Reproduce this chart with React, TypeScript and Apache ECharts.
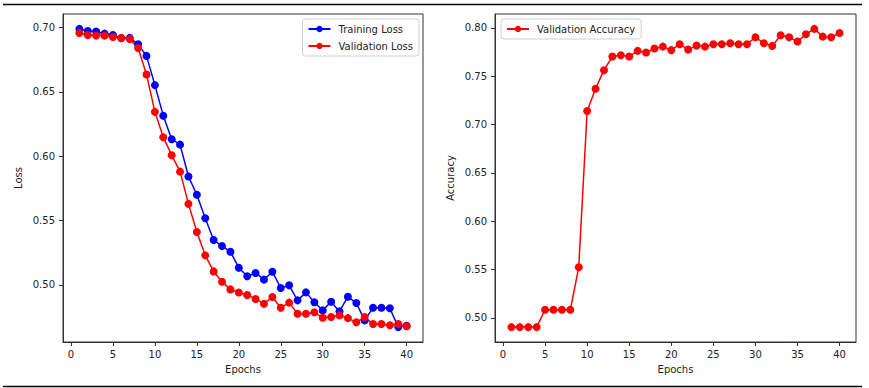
import React, { useEffect, useRef } from 'react';
import * as echarts from 'echarts';

const epochs = [1, 2, 3, 4, 5, 6, 7, 8, 9, 10, 11, 12, 13, 14, 15, 16, 17, 18, 19, 20,
  21, 22, 23, 24, 25, 26, 27, 28, 29, 30, 31, 32, 33, 34, 35, 36, 37, 38, 39, 40];

const trainLoss = [0.699, 0.6974, 0.697, 0.6953, 0.6943, 0.6917, 0.692, 0.687, 0.678, 0.6553,
  0.6314, 0.6132, 0.609, 0.5842, 0.570, 0.5517, 0.5348, 0.5301, 0.5257, 0.5133,
  0.5066, 0.5092, 0.504, 0.5102, 0.4975, 0.4996, 0.4879, 0.4941, 0.4864, 0.4801,
  0.4868, 0.4793, 0.4907, 0.4858, 0.4723, 0.4822, 0.4822, 0.4817, 0.4671, 0.4681];

const valLoss = [0.6958, 0.6943, 0.6938, 0.6938, 0.6927, 0.692, 0.6912, 0.6842, 0.6636, 0.6345,
  0.6148, 0.6008, 0.588, 0.5629, 0.541, 0.5229, 0.5104, 0.5023, 0.4964, 0.494,
  0.4921, 0.489, 0.4853, 0.4905, 0.4822, 0.4861, 0.4775, 0.4775, 0.4786, 0.4744,
  0.4749, 0.4762, 0.4741, 0.4708, 0.4749, 0.4695, 0.4695, 0.4685, 0.4695, 0.4677];

const valAcc = [0.4904, 0.4904, 0.4904, 0.4904, 0.5083, 0.5083, 0.5083, 0.5083, 0.5523, 0.714,
  0.737, 0.7563, 0.7704, 0.7718, 0.7704, 0.7763, 0.7745, 0.7787, 0.7807, 0.777,
  0.7832, 0.7776, 0.7818, 0.7807, 0.7832, 0.7832, 0.7842, 0.7832, 0.7832, 0.7904,
  0.7842, 0.7814, 0.7924, 0.7904, 0.7859, 0.7935, 0.799, 0.791, 0.7904, 0.7948];

const xTicks = [0, 5, 10, 15, 20, 25, 30, 35, 40];
const lossTicks = [0.50, 0.55, 0.60, 0.65, 0.70];
const accTicks = [0.50, 0.55, 0.60, 0.65, 0.70, 0.75, 0.80];

const FONT = 'DejaVu Sans';
const TEXT = '#222';
const SPINE = '#333';

function padRange(arrs: number[][]) {
  const all = arrs.flat();
  const lo = Math.min(...all);
  const hi = Math.max(...all);
  const m = (hi - lo) * 0.05;
  return [lo - m, hi + m];
}

function xRange() {
  const lo = Math.min(...epochs);
  const hi = Math.max(...epochs);
  const m = (hi - lo) * 0.05;
  return [lo - m, hi + m];
}

function pairs(ys: number[]) {
  return epochs.map((e, i) => [e, ys[i]]);
}

export default function App() {
  const ref = useRef<HTMLDivElement>(null);
  useEffect(() => {
    if (!ref.current) return;
    const chart = echarts.init(ref.current, undefined, { renderer: 'svg' });
    const [xMin, xMax] = xRange();
    const [lMin, lMax] = padRange([trainLoss, valLoss]);
    const [aMin, aMax] = padRange([valAcc]);
    const textStyle = { fontFamily: FONT, fontSize: 10, color: TEXT };

    const xAxisCfg = (gridIndex: number) => ({
      type: 'value',
      gridIndex,
      min: xMin,
      max: xMax,
      name: 'Epochs',
      nameLocation: 'middle',
      nameGap: 22,
      nameTextStyle: { ...textStyle },
      axisLine: { show: true, onZero: false, lineStyle: { color: SPINE, width: 1 } },
      axisTick: { show: true, inside: false, length: 4, lineStyle: { color: SPINE, width: 1 }, customValues: xTicks },
      axisLabel: { show: true, margin: 7, customValues: xTicks, formatter: (v: number) => String(v), ...textStyle },
      splitLine: { show: false },
    });

    const yAxisCfg = (gridIndex: number, name: string, min: number, max: number, ticks: number[]) => ({
      type: 'value',
      gridIndex,
      min,
      max,
      name,
      nameLocation: 'middle',
      nameGap: 40,
      nameTextStyle: { ...textStyle },
      axisLine: { show: true, onZero: false, lineStyle: { color: SPINE, width: 1 } },
      axisTick: { show: true, inside: false, length: 4, lineStyle: { color: SPINE, width: 1 }, customValues: ticks },
      axisLabel: { show: true, margin: 8, customValues: ticks, formatter: (v: number) => v.toFixed(2), ...textStyle },
      splitLine: { show: false },
    });

    const lineSeries = (name: string, data: number[], color: string, idx: number) => ({
      type: 'line',
      name,
      xAxisIndex: idx,
      yAxisIndex: idx,
      data: pairs(data),
      symbol: 'circle',
      symbolSize: 8,
      showAllSymbol: true,
      itemStyle: { color },
      lineStyle: { color, width: 1.5 },
      emphasis: { disabled: true },
    });

    const legendBase = {
      orient: 'vertical',
      top: 19,
      padding: [4, 6, 4, 5],
      itemGap: 5,
      itemWidth: 22,
      itemHeight: 8,
      backgroundColor: 'rgba(255,255,255,0.8)',
      borderColor: '#d0d0d0',
      borderWidth: 1,
      borderRadius: 3,
      textStyle: { ...textStyle, lineHeight: 12, padding: [0, 0, 0, 3] },
      selectedMode: false,
    };

    chart.setOption({
      animation: false,
      backgroundColor: '#fff',
      grid: [
        { left: 63, right: 446, top: 14, bottom: 46, show: true, borderColor: SPINE, borderWidth: 1, backgroundColor: 'transparent', containLabel: false },
        { left: 495, right: 13, top: 14, bottom: 46, show: true, borderColor: SPINE, borderWidth: 1, backgroundColor: 'transparent', containLabel: false },
      ],
      xAxis: [xAxisCfg(0), xAxisCfg(1)],
      yAxis: [
        yAxisCfg(0, 'Loss', lMin, lMax, lossTicks),
        yAxisCfg(1, 'Accuracy', aMin, aMax, accTicks),
      ],
      legend: [
        { ...legendBase, right: 450, data: ['Training Loss', 'Validation Loss'] },
        { ...legendBase, left: 501, data: ['Validation Accuracy'] },
      ],
      series: [
        lineSeries('Training Loss', trainLoss, '#0000ff', 0),
        lineSeries('Validation Loss', valLoss, '#ff0000', 0),
        lineSeries('Validation Accuracy', valAcc, '#ff0000', 1),
      ],
      graphic: [
        { type: 'line', shape: { x1: 3, y1: 4.5, x2: 862, y2: 4.5 }, style: { stroke: '#000', lineWidth: 1.5 } },
        { type: 'line', shape: { x1: 3, y1: 386.5, x2: 862, y2: 386.5 }, style: { stroke: '#000', lineWidth: 1.5 } },
      ],
    });
    return () => chart.dispose();
  }, []);

  return (
    <div
      ref={ref}
      style={{ position: 'fixed', left: 0, top: 0, width: 869, height: 388 }}
    />
  );
}
